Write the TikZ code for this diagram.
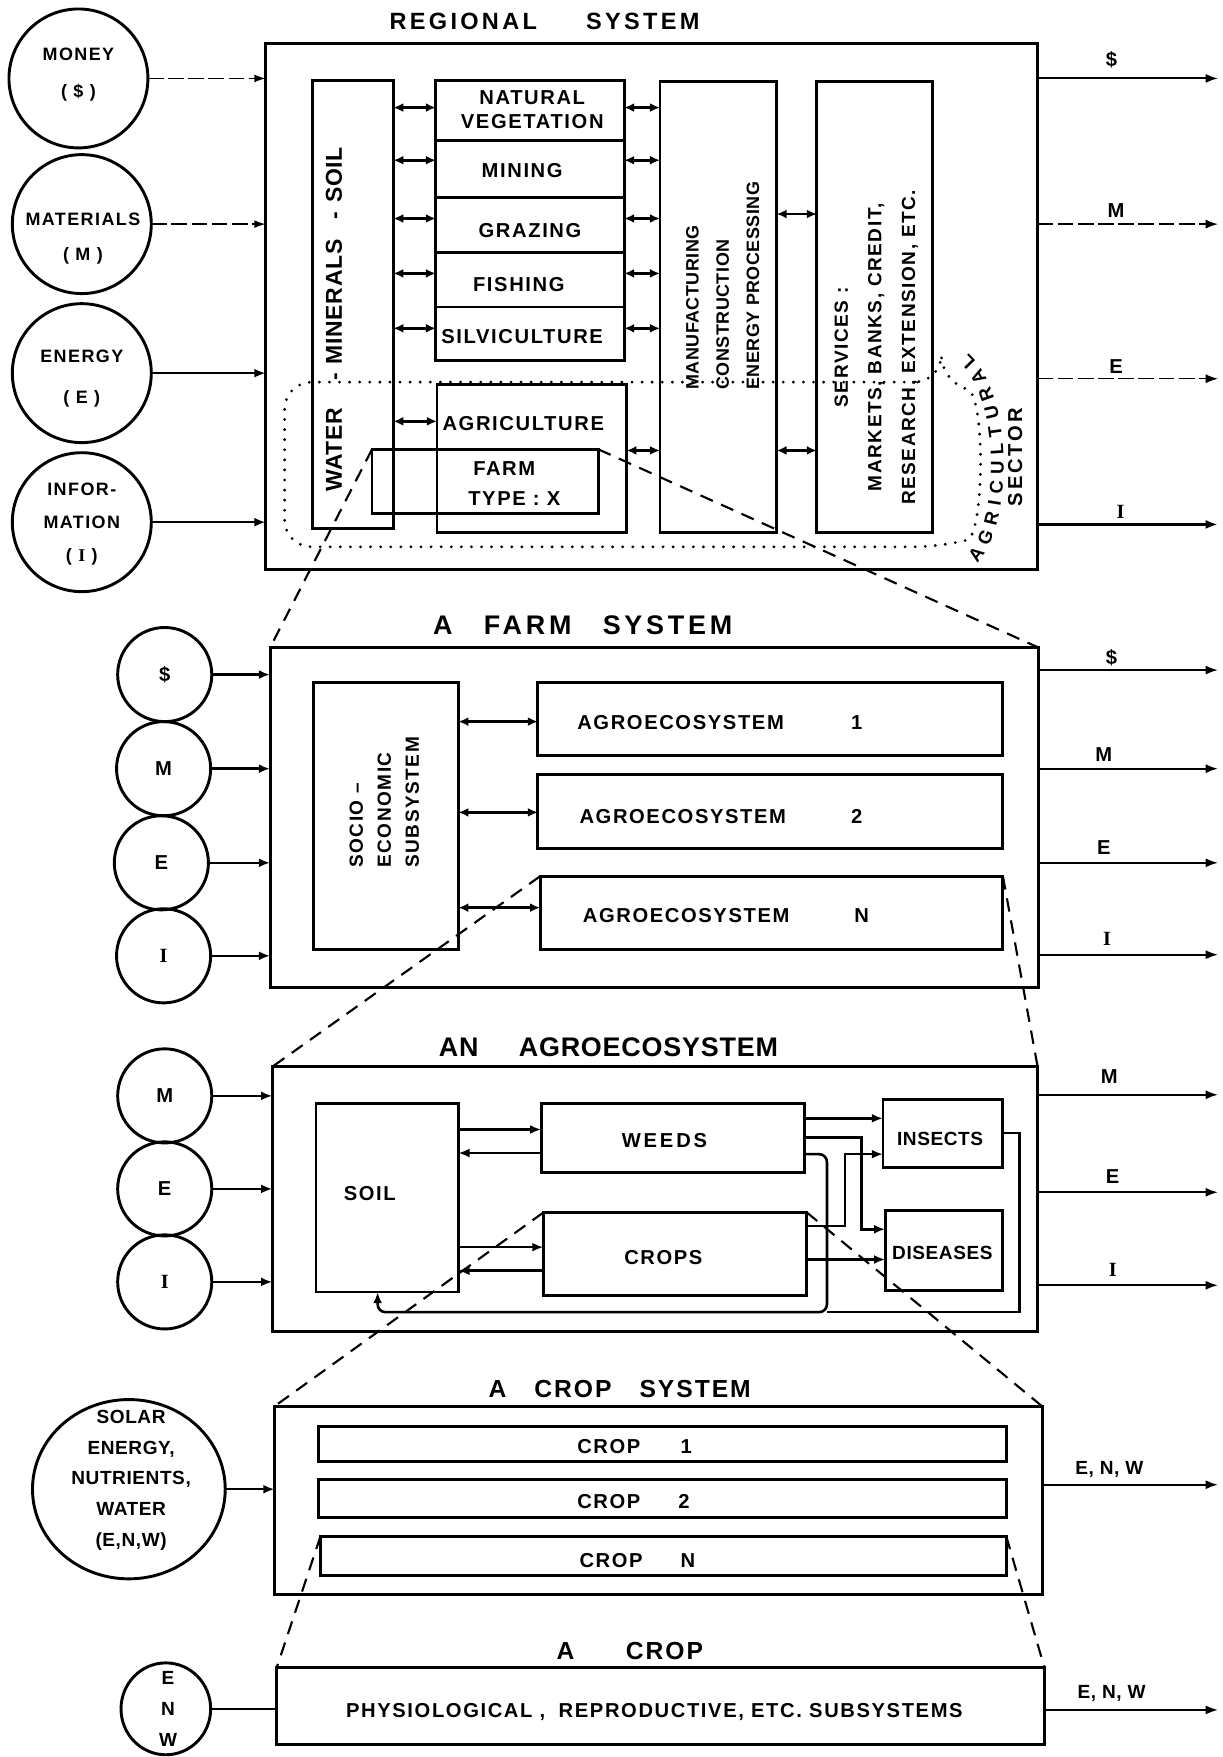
\documentclass[tikz,border=0pt]{standalone}
\usepackage{fontspec}
\setmainfont{Liberation Sans}
\newfontfamily\lf[LetterSpace=8]{Liberation Sans}
\newfontfamily\lfw[LetterSpace=14]{Liberation Sans}
\newfontfamily\lfn[LetterSpace=3]{Liberation Sans}
\newfontfamily\serI{Liberation Serif}
\newcommand\myfs[2]{\fontsize{#1}{#2}\selectfont}
\newcommand\sI{{\serI\bfseries I}}
\usetikzlibrary{arrows.meta,shapes.geometric,decorations.text}
\begin{document}
\begin{tikzpicture}[x=1pt,y=-1pt,
  bx/.style={draw, rectangle, line width=2.6pt, inner sep=0pt, outer sep=0pt},
  circ/.style={draw, circle, line width=2.6pt, inner sep=0pt, outer sep=0pt, font=\lf\bfseries\myfs{18}{20}},
  ell/.style={draw, ellipse, line width=2.6pt, inner sep=0pt, outer sep=0pt},
  lab/.style={inner sep=0pt, align=center, font=\lf\bfseries\myfs{18}{22}},
  arr/.style={line width=2.3pt, -{Latex[length=10pt,width=8pt]}},
  thinarr/.style={line width=1.3pt, dash pattern=on 14pt off 4pt, -{Latex[length=10pt,width=7pt]}},
  outarr/.style={line width=1.7pt, -{Latex[length=11pt,width=8pt]}},
  dashout/.style={line width=1.3pt, dash pattern=on 14pt off 4pt, -{Latex[length=11pt,width=8pt]}},
  dbl/.style={line width=2.4pt, {Latex[length=9pt,width=8pt]}-{Latex[length=9pt,width=8pt]}},
  ln/.style={line width=2.3pt},
  zoomln/.style={line width=1.9pt, dash pattern=on 12pt off 8pt},
  dotln/.style={line width=2.8pt, line cap=round, dash pattern=on 0pt off 9pt}]
\path[use as bounding box, fill=white] (0,0) rectangle (1091,1568);

% ================= REGIONAL SYSTEM =================
\node[inner sep=0pt, font=\lfw\bfseries\myfs{21}{25}] (t-reg) at (486,19) {REGIONAL\hspace{44pt}SYSTEM};
\node[bx, minimum width=689pt, minimum height=469pt] (reg) at (581.5,273.5) {};
\node[bx, minimum width=72pt, minimum height=400pt] (water) at (315,272) {};
\node[bx, minimum width=168pt, minimum height=53pt] (natveg) at (473,98.5) {};
\node[bx, minimum width=168pt, minimum height=51pt] (mining) at (473,150.5) {};
\node[bx, minimum width=168pt, minimum height=49pt] (grazing) at (473,200.5) {};
\node[bx, minimum width=168pt, minimum height=49pt] (fishing) at (473,249.5) {};
\node[bx, minimum width=168pt, minimum height=48pt] (silv) at (473,298) {};
\node[bx, minimum width=169pt, minimum height=132pt] (agri) at (474.5,409) {};
\node[bx, minimum width=202pt, minimum height=57pt] (farmx) at (433,429.5) {};
\node[bx, minimum width=104pt, minimum height=402pt] (manuf) at (641,274) {};
\node[bx, minimum width=103pt, minimum height=402pt] (serv) at (780.5,274) {};

\node[lab, rotate=90, font=\lfn\bfseries\myfs{20.5}{22}] (t-water) at (298,285) {WATER\hspace{24pt}-\hspace{8pt}MINERALS\hspace{18pt}-\hspace{8pt}SOIL};
\node[lab, font=\lf\bfseries\myfs{18}{21.5}] (t-natveg) at (475,98) {NATURAL\\VEGETATION};
\node[lab] (t-mining) at (466,152) {MINING};
\node[lab] (t-grazing) at (473,206) {GRAZING};
\node[lab] (t-fishing) at (463,254) {FISHING};
\node[lab] (t-silv) at (466,300) {SILVICULTURE};
\node[lab] (t-agri) at (467,378) {AGRICULTURE};
\node[lab] (t-farm) at (450,418) {FARM};
\node[lab] (t-type) at (459,445) {TYPE : X};
\node[lab, rotate=90, align=left, font=\lfn\bfseries\myfs{16}{27}] (t-manuf) at (645,255) {MANUFACTURING\\CONSTRUCTION\\ENERGY PROCESSING};
\node[lab, rotate=90, align=center, font=\lf\bfseries\myfs{17}{30}] (t-serv) at (782,310) {SERVICES :\\MARKETS, BANKS, CREDIT,\\RESEARCH, EXTENSION, ETC.};
\node[lab, rotate=90, font=\lfw\bfseries\myfs{18}{20}] (t-sector) at (906,408) {SECTOR};

% agricultural sector outline
\draw[dotln, rounded corners=24pt] (840,341) -- (254,341) -- (254,488) -- (840,488) .. controls (878,478) and (880,352) .. cycle;
\path[decorate, decoration={text along path, text align={fit to path},
  text={|\bfseries\myfs{16.5}{18}|AGRICULTURAL}}]
  (872,503) .. controls (904,470) and (906,352) .. (864,316);

% double arrows
\foreach \yy/\bb in {96/natveg,143/mining,195/grazing,244/fishing,293/silv}{
  \draw[dbl] (water.east |- 0,\yy) -- (\bb.west |- 0,\yy);
  \draw[dbl] (\bb.east |- 0,\yy) -- (manuf.west |- 0,\yy);
}
\draw[dbl] (water.east |- 0,376) -- (agri.west |- 0,376);
\draw[dbl] (agri.east |- 0,402) -- (manuf.west |- 0,402);
\draw[dbl] (manuf.east |- 0,191) -- (serv.west |- 0,191);
\draw[dbl] (manuf.east |- 0,402) -- (serv.west |- 0,402);

% input circles
\node[circ, minimum size=124pt] (money) at (70,70) {};
\node[circ, minimum size=124pt] (materials) at (73,200) {};
\node[circ, minimum size=124pt] (energy) at (73,333) {};
\node[circ, minimum size=124pt] (info) at (73,466) {};
\node[lab, font=\lf\bfseries\myfs{16}{33}] (t-money) at (70,67) {MONEY\\( \$ )};
\node[lab, font=\lf\bfseries\myfs{16}{31}] (t-materials) at (74,213) {MATERIALS\\( M )};
\node[lab, font=\lf\bfseries\myfs{16}{36}] (t-energy) at (73,338) {ENERGY\\( E )};
\node[lab, font=\lf\bfseries\myfs{16}{29.5}] (t-info) at (73,468) {INFOR-\\MATION\\( \sI\ )};
\draw[thinarr] (money.east) -- (money.east -| reg.west);
\draw[thinarr] (materials.east) -- (materials.east -| reg.west);
\draw[arr] (energy.east) -- (energy.east -| reg.west);
\draw[arr] (info.east) -- (info.east -| reg.west);

% outputs
\coordinate (ro1) at (1087,70);
\coordinate (ro2) at (1087,200);
\coordinate (ro3) at (1087,338);
\coordinate (ro4) at (1087,468);
\draw[outarr] (reg.east |- ro1) -- (ro1);
\draw[dashout] (reg.east |- ro2) -- (ro2);
\draw[dashout] (reg.east |- ro3) -- (ro3);
\draw[outarr, line width=2.3pt] (reg.east |- ro4) -- (ro4);
\node[lab] (l-ro1) at (992,53) {\$};
\node[lab] (l-ro2) at (996,188) {M};
\node[lab] (l-ro3) at (996,327) {E};
\node[lab] (l-ro4) at (1000,457) {\sI};

% ================= A FARM SYSTEM =================
\node[inner sep=0pt, font=\lfw\bfseries\myfs{24}{28}] (t-farmsys) at (520,558) {A\hspace{28pt}FARM\hspace{28pt}SYSTEM};
\node[bx, minimum width=686pt, minimum height=303pt] (farmsys) at (584,729.5) {};
\node[bx, minimum width=129pt, minimum height=238pt] (socio) at (344.5,728) {};
\node[bx, minimum width=415pt, minimum height=65pt] (ag1) at (687.5,641.5) {};
\node[bx, minimum width=415pt, minimum height=66pt] (ag2) at (687.5,724) {};
\node[bx, minimum width=413pt, minimum height=65pt] (agn) at (688.5,814.5) {};
\node[lab, rotate=90, align=left, font=\lf\bfseries\myfs{17}{25}] (t-socio) at (343,716) {SOCIO \textendash\\ECONOMIC\\SUBSYSTEM};
\node[lab, anchor=west] (t-ag1) at (515,645) {AGROECOSYSTEM\hspace{60pt}1};
\node[lab, anchor=west] (t-ag2) at (517,729) {AGROECOSYSTEM\hspace{58pt}2};
\node[lab, anchor=west] (t-agn) at (520,817) {AGROECOSYSTEM\hspace{58pt}N};
\draw[dbl] (socio.east |- 0,644) -- (ag1.west |- 0,644);
\draw[dbl] (socio.east |- 0,725) -- (ag2.west |- 0,725);
\draw[dbl] (socio.east |- 0,810) -- (agn.west |- 0,810);

\node[circ, minimum size=84pt] (f1) at (147,602) {\$};
\node[circ, minimum size=84pt] (f2) at (146,686) {M};
\node[circ, minimum size=84pt] (f3) at (144,770) {E};
\node[circ, minimum size=84pt] (f4) at (146,853) {\sI};
\draw[arr] (f1.east) -- (f1.east -| farmsys.west);
\draw[arr] (f2.east) -- (f2.east -| farmsys.west);
\draw[arr] (f3.east) -- (f3.east -| farmsys.west);
\draw[arr] (f4.east) -- (f4.east -| farmsys.west);

\coordinate (fo1) at (1087,598);
\coordinate (fo2) at (1087,686);
\coordinate (fo3) at (1087,770);
\coordinate (fo4) at (1087,852);
\draw[outarr] (farmsys.east |- fo1) -- (fo1);
\draw[outarr] (farmsys.east |- fo2) -- (fo2);
\draw[outarr] (farmsys.east |- fo3) -- (fo3);
\draw[outarr] (farmsys.east |- fo4) -- (fo4);
\node[lab] (l-fo1) at (992,587) {\$};
\node[lab] (l-fo2) at (985,673) {M};
\node[lab] (l-fo3) at (985,756) {E};
\node[lab] (l-fo4) at (988,838) {\sI};

\draw[zoomln] (farmx.north west) -- (farmsys.north west);
\draw[zoomln] (farmx.north east) -- (farmsys.north east);

% ================= AN AGROECOSYSTEM =================
\node[inner sep=0pt, font=\lfn\bfseries\myfs{24}{28}] (t-agro) at (543,935) {AN\hspace{36pt}AGROECOSYSTEM};
\node[bx, minimum width=683pt, minimum height=236pt] (agro) at (584.5,1070) {};
\node[bx, minimum width=127pt, minimum height=168pt] (soil) at (345.5,1069) {};
\node[bx, minimum width=235pt, minimum height=61pt] (weeds) at (600.5,1015.5) {};
\node[bx, minimum width=235pt, minimum height=74pt] (crops) at (602.5,1119) {};
\node[bx, minimum width=107pt, minimum height=61pt] (insects) at (841.5,1011.5) {};
\node[bx, minimum width=105pt, minimum height=72pt] (diseases) at (842.5,1116) {};
\node[lab] (t-soil) at (330,1065) {SOIL};
\node[lab, font=\lfw\bfseries\myfs{18}{22}] (t-weeds) at (593,1018) {WEEDS};
\node[lab] (t-crops) at (592,1122) {CROPS};
\node[lab, font=\lfn\bfseries\myfs{17}{22}] (t-insects) at (839,1016) {INSECTS};
\node[lab, font=\lfn\bfseries\myfs{17}{22}] (t-diseases) at (841,1118) {DISEASES};

\draw[arr] (soil.east |- 0,1008) -- (weeds.west |- 0,1008);
\draw[arr] (weeds.west |- 0,1029) -- (soil.east |- 0,1029);
\draw[arr] (soil.east |- 0,1113) -- (crops.west |- 0,1113);
\draw[arr] (crops.west |- 0,1134) -- (soil.east |- 0,1134);
\draw[arr] (weeds.east |- 0,998) -- (insects.west |- 0,998);
\draw[arr] (weeds.east |- 0,1015) -- (769,1015) -- (769,1097) -- (diseases.west |- 0,1097);
\draw[arr] (crops.east |- 0,1094) -- (754,1094) -- (754,1030) -- (insects.west |- 0,1030);
\draw[arr] (crops.east |- 0,1124) -- (diseases.west |- 0,1124);
\draw[arr, rounded corners=7pt] (weeds.east |- 0,1030) -- (738,1030) -- (738,1171) -- (337,1171) -- (soil.south -| 337,0);
\draw[ln] (insects.east |- 0,1011) -- (910,1011) -- (910,1171) -- (738,1171);

\node[circ, minimum size=84pt] (a1) at (147,978) {M};
\node[circ, minimum size=84pt] (a2) at (147,1061) {E};
\node[circ, minimum size=84pt] (a3) at (147,1144) {\sI};
\draw[arr] (a1.east) -- (a1.east -| agro.west);
\draw[arr] (a2.east) -- (a2.east -| agro.west);
\draw[arr] (a3.east) -- (a3.east -| agro.west);

\coordinate (ao1) at (1087,977);
\coordinate (ao2) at (1087,1064);
\coordinate (ao3) at (1087,1147);
\draw[outarr] (agro.east |- ao1) -- (ao1);
\draw[outarr] (agro.east |- ao2) -- (ao2);
\draw[outarr] (agro.east |- ao3) -- (ao3);
\node[lab] (l-ao1) at (990,961) {M};
\node[lab] (l-ao2) at (993,1050) {E};
\node[lab] (l-ao3) at (993,1133) {\sI};

\draw[zoomln] (agn.north west) -- (agro.north west);
\draw[zoomln] (agn.north east) -- (agro.north east);

% ================= A CROP SYSTEM =================
\node[inner sep=0pt, font=\lf\bfseries\myfs{22}{26}] (t-cropsys) at (553,1240) {A\hspace{25pt}CROP\hspace{25pt}SYSTEM};
\node[bx, minimum width=685pt, minimum height=168pt] (cropsys) at (587.5,1339) {};
\node[bx, minimum width=614pt, minimum height=31pt] (crop1) at (591,1288.5) {};
\node[bx, minimum width=614pt, minimum height=34pt] (crop2) at (591,1337) {};
\node[bx, minimum width=612pt, minimum height=35pt] (cropn) at (592,1388.5) {};
\node[lab, anchor=west] (t-crop1) at (515,1291) {CROP\hspace{36pt}1};
\node[lab, anchor=west] (t-crop2) at (515,1340) {CROP\hspace{34pt}2};
\node[lab, anchor=west] (t-cropn) at (517,1393) {CROP\hspace{34pt}N};

\node[ell, minimum width=172pt, minimum height=160pt] (solar) at (115,1329) {};
\node[lab, font=\lfn\bfseries\myfs{17}{27.5}] (t-solar) at (117,1321) {SOLAR\\ENERGY,\\NUTRIENTS,\\WATER\\(E,N,W)};
\draw[arr] (solar.east) -- (solar.east -| cropsys.west);
\coordinate (co1) at (1087,1325);
\draw[outarr] (cropsys.east |- co1) -- (co1);
\node[lab, font=\lfn\bfseries\myfs{17}{22}] (l-co1) at (990,1311) {E, N, W};

\draw[zoomln] (crops.north west) -- (cropsys.north west);
\draw[zoomln] (crops.north east) -- (cropsys.north east);

% ================= A CROP =================
\node[inner sep=0pt, font=\lf\bfseries\myfs{22}{26}] (t-acrop) at (562,1473) {A\hspace{46pt}CROP};
\node[bx, minimum width=685pt, minimum height=69pt] (acrop) at (589.5,1522.5) {};
\node[lab] (t-phys) at (584,1528) {PHYSIOLOGICAL ,\hspace{12pt}REPRODUCTIVE, ETC. SUBSYSTEMS};
\node[ell, minimum width=80pt, minimum height=82pt] (enw) at (148,1525) {};
\node[lab, font=\lf\bfseries\myfs{17}{28}] (t-enw) at (150,1525) {E\\N\\W};
\draw[ln] (enw.east) -- (enw.east -| acrop.west);
\coordinate (co2) at (1087,1526);
\draw[outarr] (acrop.east |- co2) -- (co2);
\node[lab, font=\lfn\bfseries\myfs{17}{22}] (l-co2) at (992,1511) {E, N, W};

\draw[zoomln] (cropn.north west) -- (acrop.north west);
\draw[zoomln] (cropn.north east) -- (acrop.north east);
\end{tikzpicture}
\end{document}
